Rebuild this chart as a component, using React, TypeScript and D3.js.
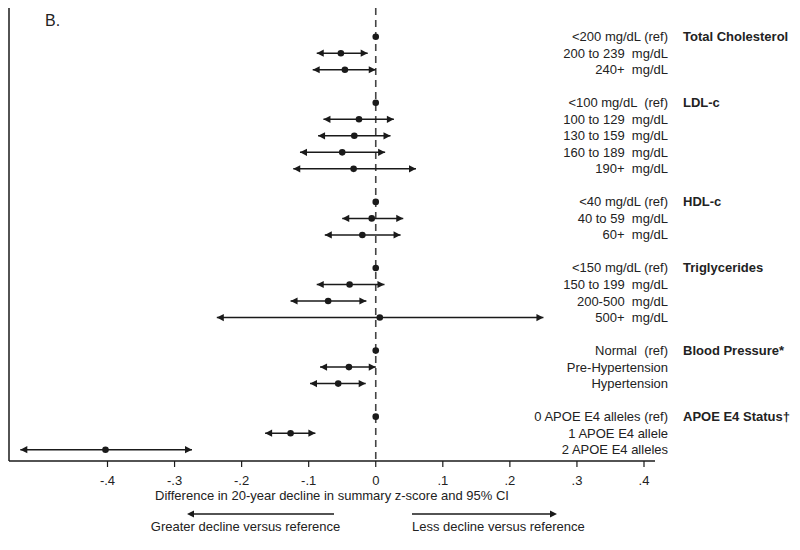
import React from "react";
import * as d3 from "d3";

// Row labels (blank string = spacer row)
const rowLabels: string[] = [
  "<200 mg/dL (ref)", "200 to 239  mg/dL", "240+  mg/dL", "",
  "<100 mg/dL  (ref)", "100 to 129  mg/dL", "130 to 159  mg/dL", "160 to 189  mg/dL", "190+  mg/dL", "",
  "<40 mg/dL (ref)", "40 to 59  mg/dL", "60+  mg/dL", "",
  "<150 mg/dL (ref)", "150 to 199  mg/dL", "200-500  mg/dL", "500+  mg/dL", "",
  "Normal  (ref)", "Pre-Hypertension", "Hypertension", "",
  "0 APOE E4 alleles (ref)", "1 APOE E4 allele", "2 APOE E4 alleles",
];

// Group titles with the row index where they appear
const groupTitles: string[] = ["Total Cholesterol", "LDL-c", "HDL-c", "Triglycerides", "Blood Pressure*", "APOE E4 Status\u2020"];
const groupRows: number[] = [0, 4, 10, 14, 19, 23];

// Point estimates and 95% CI (null = no mark / no CI)
const estimates: (number | null)[] = [
  0, -0.052, -0.046, null,
  0, -0.025, -0.032, -0.050, -0.033, null,
  0, -0.006, -0.020, null,
  0, -0.039, -0.071, 0.006, null,
  0, -0.040, -0.056, null,
  0, -0.127, -0.403,
];
const lows: (number | null)[] = [
  null, -0.088, -0.094, null,
  null, -0.078, -0.086, -0.113, -0.123, null,
  null, -0.050, -0.076, null,
  null, -0.088, -0.127, -0.237, null,
  null, -0.083, -0.098, null,
  null, -0.165, -0.530,
];
const highs: (number | null)[] = [
  null, -0.012, 0.0, null,
  null, 0.027, 0.022, 0.014, 0.060, null,
  null, 0.041, 0.037, null,
  null, 0.013, -0.014, 0.250, null,
  null, 0.0, -0.015, null,
  null, -0.090, -0.274,
];

const xTicks: number[] = [-0.4, -0.3, -0.2, -0.1, 0, 0.1, 0.2, 0.3, 0.4];
const xTickLabels: string[] = ["-.4", "-.3", "-.2", "-.1", "0", ".1", ".2", ".3", ".4"];

const panelLabel = "B.";
const xTitle = "Difference in 20-year decline in summary z-score and 95% CI";
const leftNote = "Greater decline versus reference";
const rightNote = "Less decline versus reference";

export default function App() {
  const W = 800, H = 550;
  const plotLeft = 9, plotRight = 655, plotTop = 8, axisY = 461;
  const x = d3.scaleLinear().domain([-0.4, 0.4]).range([107.5, 644]);
  const y = d3.scalePoint<number>().domain(d3.range(rowLabels.length)).range([36.7, 449.7]);
  const ink = "#1a1a1a";
  const font = "Arial, 'Liberation Sans', sans-serif";

  const arrowHead = (tipX: number, cy: number, dir: number) => {
    const len = 7, half = 3.6;
    return `M${tipX},${cy} L${tipX - dir * len},${cy - half} L${tipX - dir * len},${cy + half} Z`;
  };

  return (
    <svg width={W} height={H} style={{ position: "absolute", left: 0, top: 0, background: "#fff" }} fontFamily={font}>
      <rect width={W} height={H} fill="#fff" />
      {/* left axis line */}
      <line x1={plotLeft} x2={plotLeft} y1={plotTop} y2={axisY} stroke={ink} strokeWidth={1.5} />
      {/* bottom axis line */}
      <line x1={plotLeft} x2={plotRight} y1={axisY} y2={axisY} stroke={ink} strokeWidth={1.5} />
      {/* zero reference line */}
      <line x1={x(0)} x2={x(0)} y1={plotTop} y2={axisY} stroke="#444" strokeWidth={1.6} strokeDasharray="7,5" />
      {/* ticks */}
      {xTicks.map((t, i) => (
        <g key={i}>
          <line x1={x(t)} x2={x(t)} y1={axisY} y2={axisY + 6} stroke={ink} strokeWidth={1.2} />
          <text x={x(t)} y={axisY + 19} fontSize={13} textAnchor="middle" dominantBaseline="central" fill="#222">{xTickLabels[i]}</text>
        </g>
      ))}
      <text x={(plotLeft + plotRight) / 2} y={495} fontSize={13} textAnchor="middle" dominantBaseline="central" fill="#222">{xTitle}</text>

      {/* CIs and points */}
      {estimates.map((e, i) => {
        if (e === null) return null;
        const cy = y(i) as number;
        const lo = lows[i], hi = highs[i];
        return (
          <g key={i}>
            {lo !== null && hi !== null && (
              <g>
                <line x1={x(lo)} x2={x(hi)} y1={cy} y2={cy} stroke={ink} strokeWidth={1.5} />
                <path d={arrowHead(x(lo), cy, -1)} fill={ink} />
                <path d={arrowHead(x(hi), cy, 1)} fill={ink} />
              </g>
            )}
            <circle cx={x(e)} cy={cy} r={3.3} fill={ink} />
          </g>
        );
      })}

      {/* row labels */}
      {rowLabels.map((l, i) => l ? (
        <text key={i} x={668} y={y(i) as number} fontSize={13} textAnchor="end" dominantBaseline="central" fill="#222" style={{ whiteSpace: "pre" }}>{l}</text>
      ) : null)}
      {groupTitles.map((g, i) => (
        <text key={i} x={683} y={y(groupRows[i]) as number} fontSize={13} fontWeight="bold" dominantBaseline="central" fill="#222">{g}</text>
      ))}

      {/* panel label */}
      <text x={45} y={20} fontSize={16} dominantBaseline="central" fill="#222">{panelLabel}</text>

      {/* direction arrows */}
      <line x1={334} x2={192} y1={514} y2={514} stroke={ink} strokeWidth={1.3} />
      <path d={arrowHead(187, 514, -1)} fill={ink} />
      <text x={245.5} y={526} fontSize={13} textAnchor="middle" dominantBaseline="central" fill="#222">{leftNote}</text>
      <line x1={412} x2={551} y1={514} y2={514} stroke={ink} strokeWidth={1.3} />
      <path d={arrowHead(557, 514, 1)} fill={ink} />
      <text x={412} y={526} fontSize={13} textAnchor="start" dominantBaseline="central" fill="#222">{rightNote}</text>
    </svg>
  );
}
